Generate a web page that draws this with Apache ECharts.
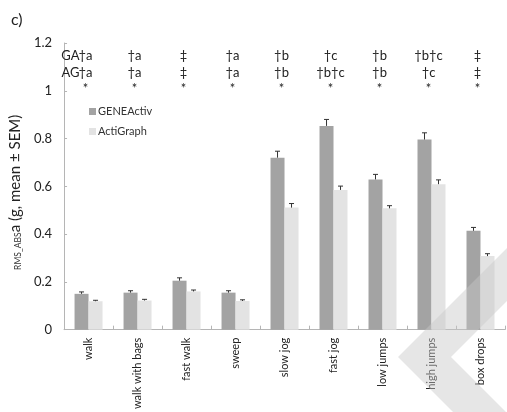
<!DOCTYPE html>
<html><head><meta charset="utf-8">
<script src="https://cdn.jsdelivr.net/npm/echarts@6/dist/echarts.min.js"></script>
<style>html,body{margin:0;padding:0;background:#fff}#c{width:507px;height:412px}</style>
</head><body><div id="c"></div>
<script>
var categories = ['walk','walk with bags','fast walk','sweep','slow jog','fast jog','low jumps','high jumps','box drops'];
var geneActiv = [0.150,0.155,0.205,0.155,0.720,0.853,0.629,0.796,0.414];
var geneErr   = [0.008,0.008,0.012,0.008,0.027,0.027,0.021,0.028,0.014];
var actiGraph = [0.119,0.122,0.160,0.120,0.511,0.585,0.508,0.609,0.308];
var actiErr   = [0.004,0.005,0.006,0.005,0.017,0.016,0.011,0.018,0.010];
var gaRow = ['†a','†a','‡','†a','†b','†c','†b','†b†c','‡'];
var agRow = ['†a','†a','‡','†a','†b','†b†c','†b','†c','‡'];
var starRow = ['*','*','*','*','*','*','*','*','*'];
var rowLevels = {ga:1.146, ag:1.076, star:1.01};
var yTicks = ['0','0.2','0.4','0.6','0.8','1','1.2'];

var FONT = 'Lato';
var chart = echarts.init(document.getElementById('c'));

function errSeries(vals, errs, off){
  return {
    type:'custom', z:5, silent:true,
    data: vals.map(function(v,i){return [i, v, v+errs[i]];}),
    renderItem:function(params, api){
      var p0 = api.coord([api.value(0), api.value(1)]);
      var p1 = api.coord([api.value(0), api.value(2)]);
      var x = p0[0] + off;
      return {type:'group', children:[
        {type:'line', shape:{x1:x,y1:p0[1],x2:x,y2:p1[1]}, style:{stroke:'#333',lineWidth:1}},
        {type:'line', shape:{x1:x-2.5,y1:p1[1],x2:x+2.5,y2:p1[1]}, style:{stroke:'#333',lineWidth:1}}
      ]};
    }
  };
}
function textRow(texts, level, prefix){
  return {
    type:'custom', silent:true, z:6,
    data: texts.map(function(t,i){return [i, level, t];}),
    renderItem:function(params, api){
      var i = api.value(0);
      var p = api.coord([i, api.value(1)]);
      var x = p[0] - 3;
      var t = texts[i];
      var children = [{type:'text', x:x, y:p[1], style:{text:t, align:'center', verticalAlign:'middle', font:'13px '+FONT, fill:'#222'}}];
      if(i===0 && prefix){
        children.push({type:'text', x:x-6, y:p[1], style:{text:prefix, align:'right', verticalAlign:'middle', font:'13px '+FONT, fill:'#222'}});
      }
      return {type:'group', children:children};
    }
  };
}

chart.setOption({
  animation:false,
  textStyle:{fontFamily:FONT},
  title:{text:'c)', left:6, top:7, textStyle:{fontSize:16, fontWeight:'normal', color:'#222', fontFamily:FONT}},
  legend:{
    orient:'vertical', left:84, top:101, itemWidth:7, itemHeight:7, itemGap:9,
    icon:'rect',
    textStyle:{fontSize:11, color:'#333', fontFamily:FONT, padding:[0,0,0,-3]},
    data:['GENEActiv','ActiGraph']
  },
  grid:{left:60, right:2, top:43, bottom:81},
  xAxis:{
    type:'category', data:categories,
    axisLine:{lineStyle:{color:'#b5b5b5'}},
    axisTick:{show:true, inside:true, length:4, lineStyle:{color:'#b5b5b5'}},
    axisLabel:{rotate:90, fontSize:11, color:'#222', margin:8, fontFamily:FONT, interval:0}
  },
  yAxis:{
    type:'value', min:0, max:1.2, interval:0.2,
    axisLine:{show:true, lineStyle:{color:'#b5b5b5'}},
    axisTick:{show:true, inside:true, length:3, lineStyle:{color:'#b5b5b5'}},
    splitLine:{show:false},
    axisLabel:{fontSize:13, color:'#222', margin:12, fontFamily:FONT,
      formatter:function(v){ var k=Math.round(v/0.2); return yTicks[k]; }},
    name:'{s|RMS_ABS}{n|a (g, mean ± SEM)}',
    nameLocation:'middle', nameGap:37, nameRotate:90,
    nameTextStyle:{padding:[0,0,0,-12], rich:{
      s:{fontSize:8.5, color:'#333', fontFamily:FONT, verticalAlign:'bottom', padding:[6,0,0,0]},
      n:{fontSize:15, color:'#222', fontFamily:FONT}
    }}
  },
  series:[
    {name:'GENEActiv', type:'bar', data:geneActiv, barWidth:14, barGap:'0%', itemStyle:{color:'#a3a3a3'}},
    {name:'ActiGraph', type:'bar', data:actiGraph, barWidth:14, barGap:'0%', itemStyle:{color:'#e3e3e3'}},
    errSeries(geneActiv, geneErr, -7),
    errSeries(actiGraph, actiErr, 7),
    textRow(gaRow, rowLevels.ga, 'GA'),
    textRow(agRow, rowLevels.ag, 'AG'),
    textRow(starRow, rowLevels.star, null)
  ],
  graphic:[
    {type:'polygon', z:100, silent:true,
     shape:{points:[[507,248],[398,357],[453,412],[506,412],[451,357],[507,301]]},
     style:{fill:'rgba(200,200,200,0.45)'}}
  ]
});
</script></body></html>
